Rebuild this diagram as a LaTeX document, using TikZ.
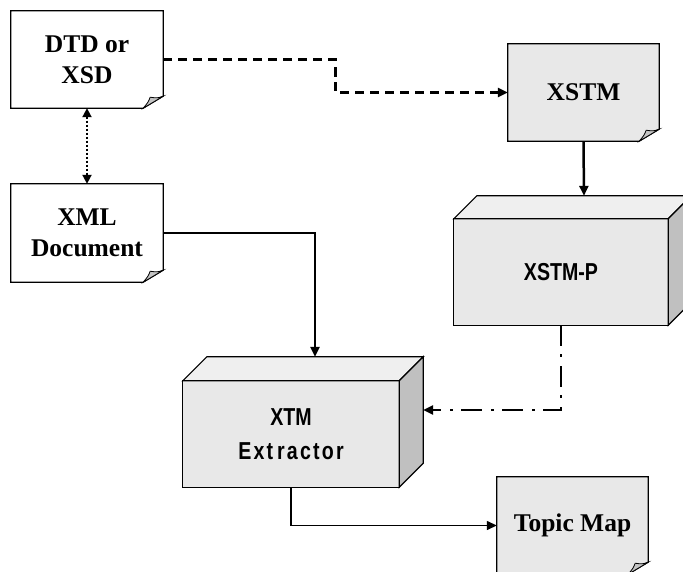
\documentclass[tikz,border=0pt]{standalone}
\usepackage{fontspec}
\setmainfont{Liberation Serif}
\newfontfamily\narrowsans[FakeStretch=0.8]{Liberation Sans Bold}
\usetikzlibrary{arrows.meta,backgrounds,calc}

\definecolor{paper}{HTML}{E8E8E8}
\definecolor{foldgray}{HTML}{C4C4C4}
\definecolor{boxtop}{HTML}{EFEFEF}
\definecolor{boxside}{HTML}{C0C0C0}

% document page with a curled lower-right corner, drawn round node #1
\newcommand\docpage[2]{%
  \filldraw[fill=#2, line width=1.2pt, line join=miter]
    (#1.north west) -- (#1.north east) -- ($(#1.south east)+(0,-12)$)
    -- ($(#1.south east)+(-20,0)$) -- (#1.south west) -- cycle;
  \filldraw[fill=foldgray, line width=0.8pt]
    ($(#1.south east)+(-20,0)$) -- ($(#1.south east)+(0,-12)$)
    .. controls ($(#1.south east)+(-6,-10)$) .. ($(#1.south east)+(-13,-11)$)
    .. controls ($(#1.south east)+(-15,-6)$) .. cycle;
}
% solid block whose front face is node #1, with depth #2
\newcommand\solidblock[2]{%
  \filldraw[fill=paper, line width=1.2pt] (#1.north west) rectangle (#1.south east);
  \filldraw[fill=boxtop, line width=1.2pt, line join=miter]
    (#1.north west) -- ++(#2,-#2) -- ($(#1.north east)+(#2,-#2)$) -- (#1.north east) -- cycle;
  \filldraw[fill=boxside, line width=1.2pt, line join=miter]
    (#1.north east) -- ++(#2,-#2) -- ($(#1.south east)+(#2,-#2)$) -- (#1.south east) -- cycle;
}

\begin{document}
\begin{tikzpicture}[x=1pt, y=-1pt,
  doclabel/.style={font=\bfseries\fontsize{25.5}{31}\selectfont, align=center,
    inner sep=0pt, minimum width=152pt, minimum height=97pt},
  proclabel/.style={font=\narrowsans\fontsize{24.5}{34}\selectfont, align=center,
    inner sep=0pt, minimum height=106pt},
  tip/.style={-{Triangle[length=10pt,width=9pt]}},
  flow/.style={tip, line width=2.5pt}
]
\useasboundingbox (0,0) rectangle (683,572);

% documents
\node[doclabel] (dtd)   at (87,59.5)    {DTD or\\XSD};
\node[doclabel, minimum height=98pt] (xml) at (87,233) {XML\\Document};
\node[doclabel, minimum width=151pt] (xstm)  at (583.5,92.5) {XSTM};
\node[doclabel, minimum width=151pt] (topic) at (572.5,525.5) {Topic Map};

% processors (front faces)
\node[proclabel, minimum width=214pt] (xstmp) at (561,272) {XSTM-P};
\node[proclabel, minimum width=216pt] (xtm)   at (291,434)
  {XTM\\{\addfontfeature{LetterSpace=9}Ext\kern4pt ractor}};

\begin{scope}[on background layer]
  \docpage{dtd}{white}
  \docpage{xml}{white}
  \docpage{xstm}{paper}
  \docpage{topic}{paper}
  \solidblock{xstmp}{23}
  \solidblock{xtm}{24}
\end{scope}

% attachment points on the blocks
\coordinate (xstmptop) at ($(xstmp.north)+(23,-23)$);
\coordinate (xtmtop)   at ($(xtm.north)+(24,-24)$);
\coordinate (xtmside)  at ($(xtm.east)+(24,-24)$);
\coordinate (dbend)    at ($(dtd.east)!0.5!(xstm.west)$);

% connectors
\draw[tip, line width=2.6pt, dash pattern=on 9pt off 6pt]
  (dtd.east) -| (dbend) |- (xstm.west);
\draw[line width=2pt, dash pattern=on 2pt off 2pt,
  {Triangle[length=9pt,width=9pt]}-{Triangle[length=9pt,width=9pt]}]
  (dtd.south) -- (xml.north);
\draw[flow] (xml.east) -| (xtmtop);
\draw[flow] (xstm.south) -- (xstmptop);
\draw[tip, line width=2.6pt, dash pattern=on 21pt off 8pt on 3pt off 9pt]
  (xstmp.south) |- (xtmside);
\draw[tip, line width=1.4pt] (xtm.south) |- (topic.west);
\end{tikzpicture}
\end{document}
